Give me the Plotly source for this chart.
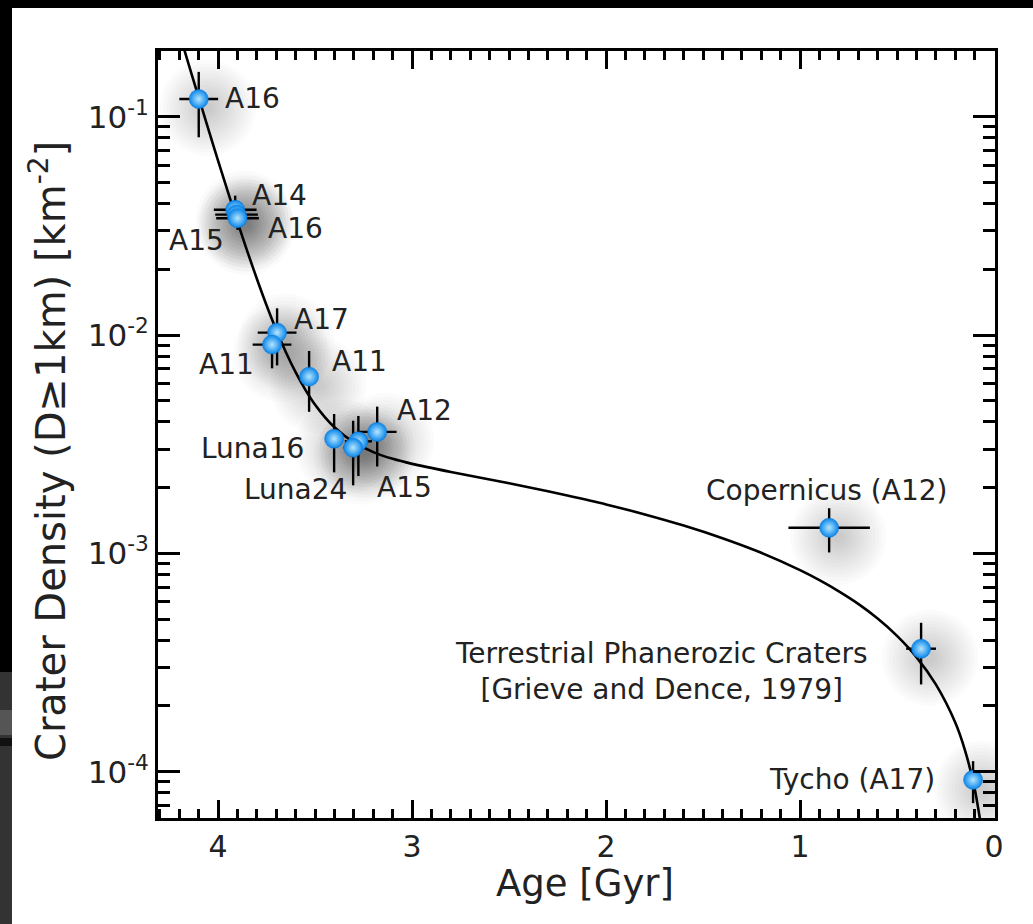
import math
import plotly.graph_objects as go

# ---------------- data ----------------
# model chronology curve
curve_age = [4.20, 4.15, 4.10, 4.05, 4.00, 3.95, 3.90, 3.85, 3.80, 3.75, 3.70, 3.65,
             3.60, 3.55, 3.50, 3.45, 3.40, 3.35, 3.30, 3.20, 3.10, 3.00, 2.80, 2.60,
             2.40, 2.20, 2.00, 1.80, 1.60, 1.40, 1.20, 1.00, 0.90, 0.80, 0.70, 0.60,
             0.50, 0.40, 0.30, 0.20, 0.15, 0.10, 0.07]
curve_density = [0.2413, 0.1716, 0.1223, 0.0875, 0.0628, 0.0454, 0.0330, 0.02425,
                 0.01806, 0.01366, 0.01054, 0.00832, 0.00674, 0.00561, 0.00479,
                 0.00421, 0.00378, 0.00347, 0.00323, 0.00291, 0.00271, 0.00257,
                 0.00236, 0.00218, 0.00201, 0.00184, 0.001676, 0.001508, 0.001341,
                 0.001173, 0.001006, 0.000838, 0.000754, 0.000670, 0.000587,
                 0.000503, 0.000419, 0.000335, 0.000251, 0.000168, 0.0001257,
                 0.0000838, 0.0000587]

# calibration sites
site_names = ["A16", "A14", "A15", "A16", "A17", "A11", "A11", "A12", "Luna16",
              "A15", "Luna24", "Copernicus (A12)",
              "Terrestrial Phanerozic Craters<br>[Grieve and Dence, 1979]",
              "Tycho (A17)"]
site_age = [4.10, 3.912, 3.905, 3.900, 3.696, 3.722, 3.531, 3.180, 3.402,
            3.277, 3.304, 0.850, 0.376, 0.108]
site_density = [0.1205, 0.0375, 0.0356, 0.0343, 0.01026, 0.00904, 0.00645,
                0.00360, 0.00335, 0.00326, 0.00305, 0.00131, 0.000366, 0.0000918]
site_age_err = [0.10, 0.11, 0.11, 0.11, 0.10, 0.10, 0.0, 0.10, 0.0, 0.07, 0.05,
                0.21, 0.077, 0.02]
site_density_err = [0.040, 0.006, 0.004, 0.004, 0.003, 0.002, 0.002, 0.0011,
                    0.001, 0.001, 0.001, 0.0003, 0.000115, 0.00002]

x_ticks = [0, 1, 2, 3, 4]
y_ticks = [1e-4, 1e-3, 1e-2, 1e-1]
y_ticktext = ["10<sup>-4</sup>", "10<sup>-3</sup>", "10<sup>-2</sup>", "10<sup>-1</sup>"]

x_title = "Age [Gyr]"
y_title = "Crater Density (D\u22651km) [km<sup>-2</sup>]"

# ---------------- styling / layout ----------------
# label placement (pixel offsets from each site marker)
label_style = [
    ("left", 24, 1), ("left", 15, 14), ("right", -11, -26), ("left", 28, -10),
    ("left", 15, 13), ("right", -16, -20), ("left", 21, 15), ("left", 18, 21),
    ("right", -28, -10), ("left", 17, -46), ("right", -4, -42),
    ("center", -2, 37), ("right", -51, -23), ("right", -36, 0),
]

W, H = 1033, 924
L, R, T, B = 158, 38, 51, 106
pw, ph = W - L - R, H - T - B
FONT = "DejaVu Sans"
TXT = "#222222"

fig = go.Figure()

# soft halos behind the markers (offset down-right)
dx_age = 9 / 194.0
dy_fac = 10 ** (-9 / 218.3)
halo_x = [a - dx_age for a in site_age]
halo_y = [d * dy_fac for d in site_density]
for size in range(96, 10, -7):
    fig.add_trace(go.Scatter(
        x=halo_x, y=halo_y, mode="markers", hoverinfo="skip", showlegend=False,
        marker=dict(size=size, color="rgba(0,0,0,0.016)", line=dict(width=0)),
    ))

# chronology curve
fig.add_trace(go.Scatter(
    x=curve_age, y=curve_density, mode="lines", showlegend=False,
    line=dict(color="black", width=2.6, shape="spline", smoothing=0.8),
))

# data points with error bars
fig.add_trace(go.Scatter(
    x=site_age, y=site_density, mode="markers", showlegend=False,
    error_x=dict(type="data", array=site_age_err, color="black", thickness=2.4, width=0),
    error_y=dict(type="data", array=site_density_err, color="black", thickness=2.4, width=0),
    marker=dict(size=19, color="#0a86ea",
                gradient=dict(type="radial", color="#b5e6ff"),
                line=dict(width=0.6, color="#0a78d8")),
))

for name, a, d, (anc, xs, ys) in zip(site_names, site_age, site_density, label_style):
    fig.add_annotation(
        x=a, y=math.log10(d), xref="x", yref="y", text=name, showarrow=False,
        xanchor=anc, yanchor="middle", xshift=xs, yshift=ys, align="center",
        font=dict(family=FONT, size=28, color=TXT),
    )


def px_to_paper_x(px):
    return (px - L) / pw


def py_to_paper_y(py):
    return (H - B - py) / ph


# axis titles
fig.add_annotation(
    x=px_to_paper_x(585), y=py_to_paper_y(883), xref="paper", yref="paper",
    text=x_title, showarrow=False, xanchor="center", yanchor="middle",
    font=dict(family=FONT, size=37, color=TXT),
)
fig.add_annotation(
    x=px_to_paper_x(48), y=py_to_paper_y(451), xref="paper", yref="paper",
    text=y_title, showarrow=False, xanchor="center", yanchor="middle",
    textangle=-90, font=dict(family=FONT, size=40, color=TXT),
)

shapes = [
    # white panel on black page
    dict(type="rect", xref="paper", yref="paper", layer="below",
         x0=px_to_paper_x(12), x1=px_to_paper_x(W + 5),
         y0=py_to_paper_y(H + 5), y1=py_to_paper_y(8),
         fillcolor="white", line=dict(width=0)),
    # dark lunar strip at lower left edge
    dict(type="rect", xref="paper", yref="paper", layer="below",
         x0=px_to_paper_x(-2), x1=px_to_paper_x(12),
         y0=py_to_paper_y(H + 5), y1=py_to_paper_y(672),
         fillcolor="#333333", line=dict(width=0)),
    dict(type="rect", xref="paper", yref="paper", layer="below",
         x0=px_to_paper_x(-2), x1=px_to_paper_x(12),
         y0=py_to_paper_y(735), y1=py_to_paper_y(710),
         fillcolor="#555555", line=dict(width=0)),
    dict(type="rect", xref="paper", yref="paper", layer="below",
         x0=px_to_paper_x(-2), x1=px_to_paper_x(12),
         y0=py_to_paper_y(746), y1=py_to_paper_y(738),
         fillcolor="#111111", line=dict(width=0)),
]

x_minor = [round(i * 0.1, 1) for i in range(0, 44) if i % 10 != 0]
y_minor = [k * 10 ** e for e in range(-5, 0) for k in range(2, 10)]

fig.update_layout(
    width=W, height=H,
    margin=dict(l=L, r=R, t=T, b=B, pad=0),
    paper_bgcolor="black", plot_bgcolor="white",
    shapes=shapes,
    font=dict(family=FONT, color=TXT),
    xaxis=dict(
        range=[4.31, -0.005], tickmode="array", tickvals=x_ticks,
        ticks="inside", ticklen=18, tickwidth=3, tickcolor="black",
        showline=True, linewidth=3, linecolor="black", mirror="ticks",
        showgrid=False, zeroline=False,
        tickfont=dict(family=FONT, size=30, color=TXT),
        minor=dict(tickmode="array", tickvals=x_minor, ticks="inside",
                   ticklen=9, tickwidth=2.5, tickcolor="black", showgrid=False),
    ),
    yaxis=dict(
        type="log", range=[-4.212, -0.699], tickmode="array",
        tickvals=y_ticks, ticktext=y_ticktext,
        ticks="inside", ticklen=22, tickwidth=3, tickcolor="black",
        showline=True, linewidth=3, linecolor="black", mirror="ticks",
        showgrid=False, zeroline=False,
        tickfont=dict(family=FONT, size=31, color=TXT),
        minor=dict(tickmode="array", tickvals=y_minor, ticks="inside",
                   ticklen=12, tickwidth=2.5, tickcolor="black", showgrid=False),
    ),
)

fig.write_html("out.html")
